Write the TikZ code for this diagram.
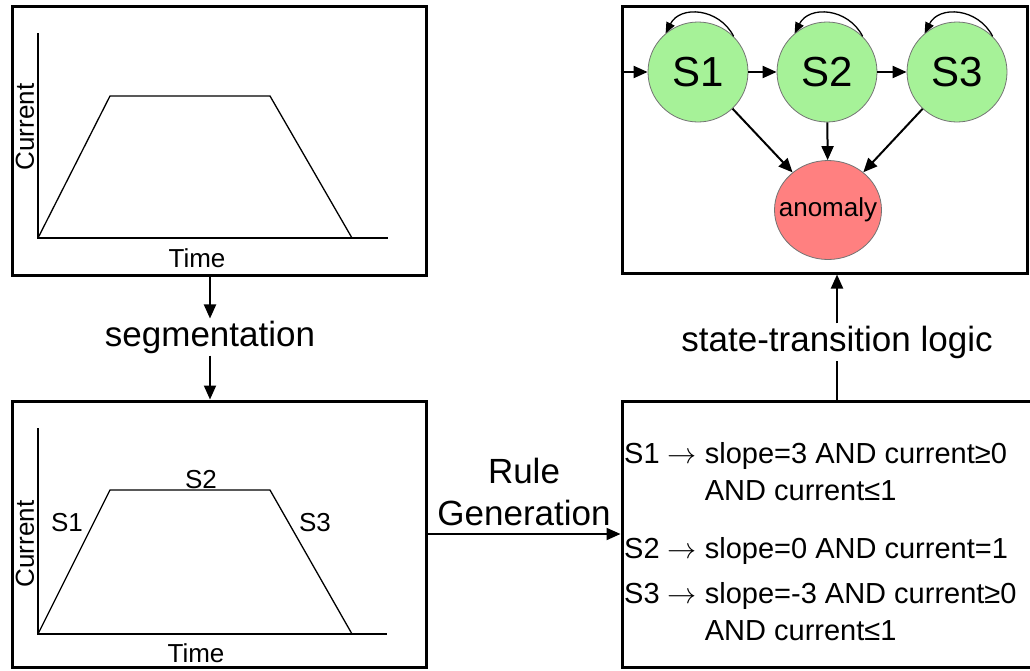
\documentclass[tikz,border=0pt]{standalone}
\usepackage{fontspec}
\setmainfont{Liberation Sans}
\usepackage{xcolor}
\usetikzlibrary{positioning,arrows.meta,shapes.geometric}
\definecolor{stgreen}{RGB}{166,242,152}
\definecolor{badred}{RGB}{255,128,128}
\newcommand{\ruleto}{\scalebox{1.17}{$\rightarrow$}}

\begin{document}
\begin{tikzpicture}[
  x=1pt, y=1pt,
  panel/.style={draw, line width=3pt, inner sep=0pt},
  st/.style={circle, draw=black!55, line width=0.8pt, fill=stgreen, minimum size=100pt, inner sep=0pt, font=\fontsize{42}{48}\selectfont},
  bad/.style={ellipse, draw=black!55, line width=0.8pt, fill=badred, minimum width=107pt, minimum height=99pt, inner sep=0pt, font=\fontsize{26}{30}\selectfont},
  lbl/.style={font=\fontsize{35}{42}\selectfont, inner sep=2pt},
  ax/.style={font=\fontsize{26}{30}\selectfont, inner sep=0pt},
  curve/.style={line width=1.3pt},
  ruletext/.style={font=\fontsize{29}{37}\selectfont, align=left, anchor=base west, inner sep=0pt},
  arr/.style={line width=2pt, -{Triangle[length=14pt,width=12pt]}},
  selfarr/.style={line width=1.3pt, -{Triangle[length=11pt,width=9pt]}, looseness=1.2},
]
\path[use as bounding box, clip] (0,0) rectangle (1030,-670);

% four panels
\node[panel, minimum width=414pt, minimum height=269pt] (tl) at (219,-140.5) {};
\node[panel, minimum width=414pt, minimum height=266pt] (bl) at (219,-534) {};
\node[panel, minimum width=405pt, minimum height=267pt] (tr) at (824.5,-139.5) {};
\node[panel, minimum width=418pt, minimum height=266pt] (br) at (831,-534) {};

% raw current trace
\draw[curve] (38,-33) -- (38,-238) -- (388,-238);
\draw[curve] (38,-238) -- (110,-96) -- (270,-96) -- (352,-238);
\node[ax, rotate=90] (cur1) at (25,-127) {Current};
\node[ax] (time1) at (197,-258) {Time};

% segmented trace
\draw[curve] (38,-428) -- (38,-634) -- (387,-634);
\draw[curve] (38,-634) -- (110,-490) -- (270,-490) -- (352,-634);
\node[ax, rotate=90] (cur2) at (25,-544) {Current};
\node[ax] (time2) at (196,-653) {Time};
\node[ax] (seg1) at (67,-523) {S1};
\node[ax] (seg2) at (201,-480) {S2};
\node[ax] (seg3) at (315,-523) {S3};

% rules (base = last line)
\node[ruletext] (r1) at (624,-500) {S1 \ruleto{} slope=3 AND current≥0\\\hphantom{S1 \ruleto{} }AND current≤1};
\node[ruletext] (r2) at (624,-558) {S2 \ruleto{} slope=0 AND current=1};
\node[ruletext] (r3) at (624,-640) {S3 \ruleto{} slope=-3 AND current≥0\\\hphantom{S3 \ruleto{} }AND current≤1};

% state machine
\node[st] (s1) at (698,-72) {S1};
\node[st] (s2) at (827,-72) {S2};
\node[st] (s3) at (957,-72) {S3};
\node[bad] (anom) at (828,-210) {\makebox[0pt]{anomaly}};
\coordinate (entry) at (tr.west |- s1.west);
\draw[arr] (entry) -- (s1);
\draw[arr] (s1) -- (s2);
\draw[arr] (s2) -- (s3);
\draw[selfarr] (s1.45) to[out=117, in=63] (s1.130);
\draw[selfarr] (s2.45) to[out=117, in=63] (s2.130);
\draw[selfarr] (s3.45) to[out=117, in=63] (s3.130);
\draw[arr] (s1) -- (anom);
\draw[arr] (s2) -- (anom);
\draw[arr] (s3) -- (anom);

% flow between panels
\node[lbl] (seg) at (210,-337) {segmentation};
\draw[arr] (tl.south -| seg.north) -- (seg.north);
\draw[arr] (seg.south) -- (seg.south |- bl.north);
\node[lbl] (stl) at (837,-342) {state-transition logic};
\draw[line width=2pt] (br.north -| stl.south) -- (stl.south);
\draw[arr] (stl.north) -- (stl.north |- tr.south);
\draw[arr] (bl.east) -- (br.west) node[lbl, midway, above=5pt, align=center] (rg) {Rule\\Generation};
\end{tikzpicture}
\end{document}
